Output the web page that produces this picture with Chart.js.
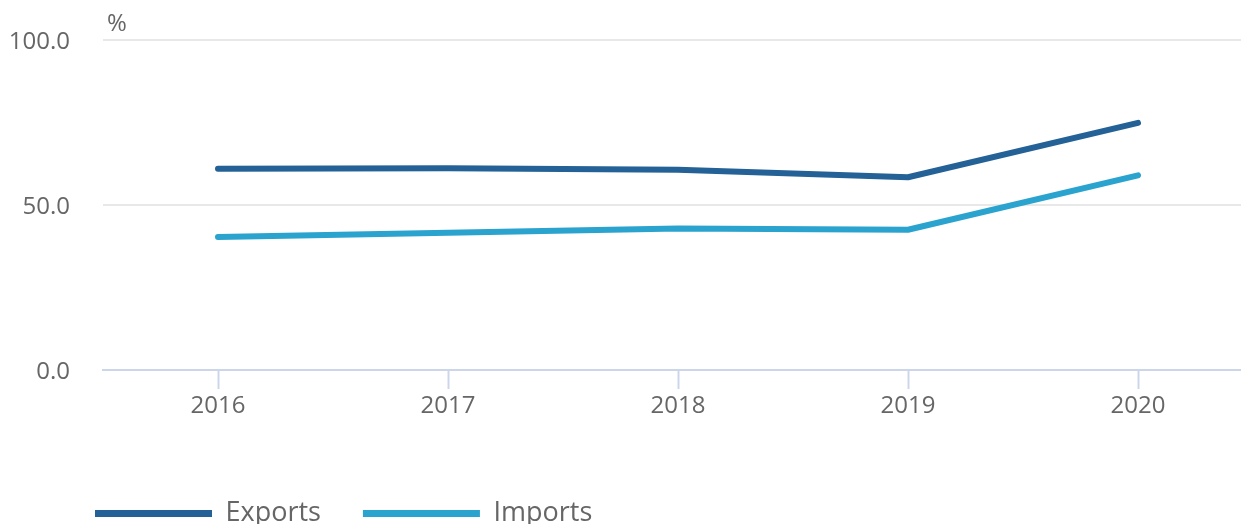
<!DOCTYPE html>
<html>
<head>
<meta charset="utf-8">
<script src="https://cdn.jsdelivr.net/npm/chart.js@4.4.0/dist/chart.umd.min.js"></script>
<style>
  html, body { margin: 0; padding: 0; background: #fff; overflow: hidden; }
  #trade_chart { display: block; }
</style>
</head>
<body>
<canvas id="trade_chart" width="1253" height="535"></canvas>
<script>
// values
const years = ['2016', '2017', '2018', '2019', '2020'];
const exports_pct = [61.0, 61.1, 60.7, 58.4, 74.9];
const imports_pct = [40.3, 41.6, 42.9, 42.5, 59.0];
const y_ticks = [0, 50, 100];
const series_labels = ['Exports', 'Imports'];
const colours = ['#236196', '#2aa3cf'];

const text_grey = '#666666';
const font_family = '"Open Sans", "Noto Sans", sans-serif';

// the "%" unit label above the y axis
const unitLabel = {
    id: 'unitLabel',
    afterLayout(chart) {
        // legend starts under the plot, not at the canvas edge
        if (chart.legend) {
            chart.legend.left = 53;
            chart.legend.top += 2;
        }
    },
    afterDraw(chart) {
        const ctx = chart.ctx;
        ctx.save();
        ctx.font = '24px ' + font_family;
        ctx.fillStyle = text_grey;
        ctx.textAlign = 'left';
        ctx.textBaseline = 'middle';
        ctx.fillText('%', chart.chartArea.left + 4, 24);
        ctx.restore();
    }
};

const datasets = [exports_pct, imports_pct].map(function (values, i) {
    return {
        label: series_labels[i],
        data: values,
        borderColor: colours[i],
        backgroundColor: colours[i],
        borderWidth: 6,
        borderCapStyle: 'round',
        borderJoinStyle: 'round',
        pointRadius: 0,
        pointHoverRadius: 0,
        tension: 0
    };
});

const canvas = document.getElementById('trade_chart');
new Chart(canvas, {
    type: 'line',
    data: { labels: years, datasets: datasets },
    plugins: [unitLabel],
    options: {
        responsive: false,
        animation: false,
        devicePixelRatio: 1,
        events: [],
        layout: { padding: { top: 40, left: 0, right: 0, bottom: 0 } },
        plugins: {
            tooltip: { enabled: false },
            legend: {
                position: 'bottom',
                align: 'start',
                labels: {
                    boxWidth: 117,
                    boxHeight: 7,
                    padding: 42,
                    color: text_grey,
                    font: { family: font_family, size: 27 },
                    generateLabels: function (chart) {
                        const items = Chart.defaults.plugins.legend.labels.generateLabels(chart);
                        items.forEach(function (it) { it.lineWidth = 0; });
                        return items;
                    }
                }
            }
        },
        scales: {
            x: {
                offset: true,
                afterFit: function (scale) { scale.height = 86; },
                grid: {
                    offset: false,
                    drawOnChartArea: false,
                    drawTicks: true,
                    tickLength: 19,
                    tickWidth: 2,
                    tickColor: '#ccd6eb'
                },
                border: { display: true, color: '#ccd6eb', width: 2 },
                ticks: {
                    padding: 3,
                    color: text_grey,
                    font: { family: font_family, size: 24 },
                    maxRotation: 0
                }
            },
            y: {
                min: 0,
                max: 100,
                afterFit: function (scale) {
                    scale.width = 103;
                    scale.paddingTop = 0;
                    scale.paddingBottom = 0;
                },
                afterBuildTicks: function (scale) {
                    scale.ticks = y_ticks.map(function (v) { return { value: v }; });
                },
                grid: {
                    drawTicks: false,
                    lineWidth: 2,
                    color: function (c) { return c.tick && c.tick.value === 0 ? 'rgba(0,0,0,0)' : '#e8e8e8'; }
                },
                border: { display: false },
                ticks: {
                    padding: 33,
                    labelOffset: 2,
                    color: text_grey,
                    font: { family: font_family, size: 24 },
                    callback: function (v) { return Number(v).toFixed(1); }
                }
            }
        }
    }
});
</script>
</body>
</html>
